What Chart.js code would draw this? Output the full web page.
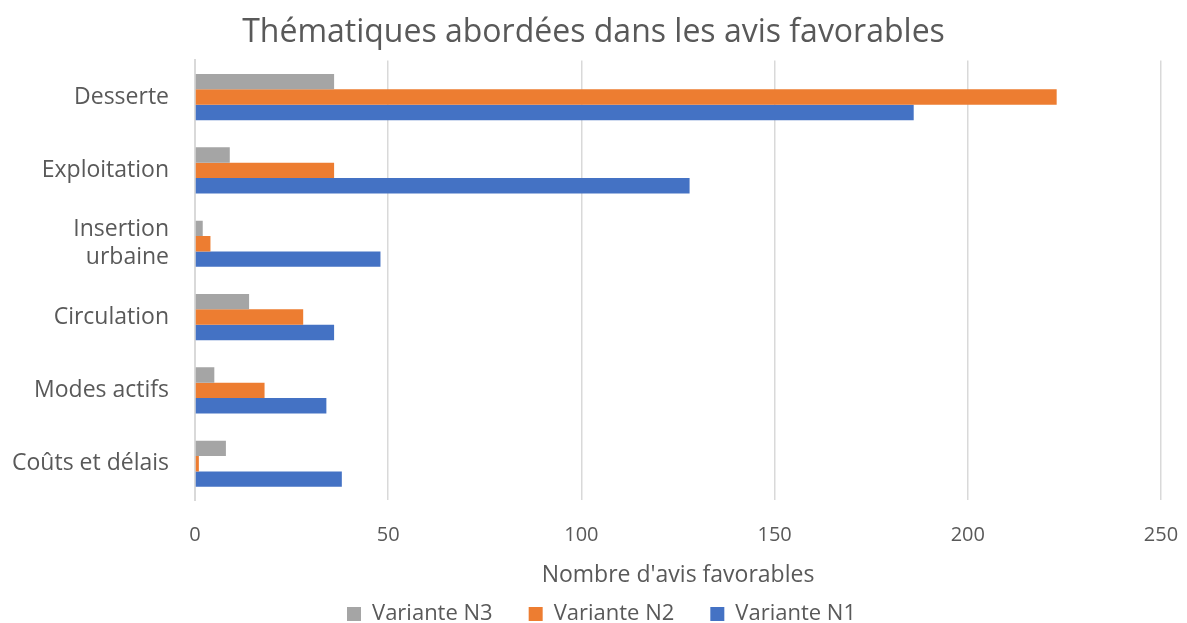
<!DOCTYPE html>
<html><head><meta charset="utf-8">
<script src="https://cdn.jsdelivr.net/npm/chart.js@4"></script>
<style>html,body{margin:0;padding:0;background:#fff}#wrap{width:1187px;height:623px}</style>
</head><body><div id="wrap"><canvas id="c" width="1187" height="623"></canvas></div>
<script>
const categories = ['Desserte', 'Exploitation', ['Insertion', 'urbaine'], 'Circulation', 'Modes actifs', 'Coûts et délais'];
const varianteN3 = [36, 9, 2, 14, 5, 8];
const varianteN2 = [223, 36, 4, 28, 18, 1];
const varianteN1 = [186, 128, 48, 36, 34, 38];
const xTicks = [0, 50, 100, 150, 200, 250];

const FONT = "'Open Sans', 'Liberation Sans', sans-serif";
const TXT = '#595959';
const boxShift = {
  id: 'boxShift',
  afterLayout(chart) {
    const l = chart.legend; if (l) { l.left += 18; l.right += 18; }
    const t = chart.titleBlock; if (t) { t.left += 10; t.right += 10; }
  }
};
new Chart(document.getElementById('c'), {
  type: 'bar',
  data: {
    labels: categories,
    datasets: [
      {label: 'Variante N3', data: varianteN3, backgroundColor: '#a5a5a5'},
      {label: 'Variante N2', data: varianteN2, backgroundColor: '#ed7d31'},
      {label: 'Variante N1', data: varianteN1, backgroundColor: '#4472c4'}
    ]
  },
  plugins: [boxShift],
  options: {
    indexAxis: 'y',
    responsive: false,
    animation: false,
    layout: {padding: {left: 6, right: 26, top: 0, bottom: -12}},
    datasets: {bar: {categoryPercentage: 0.63, barPercentage: 1.0}},
    plugins: {
      title: {display: true, text: 'Thématiques abordées dans les avis favorables', color: TXT,
        font: {family: FONT, size: 32, weight: 'normal'}, padding: {top: 14, bottom: 8}},
      legend: {position: 'bottom', labels: {color: TXT, font: {family: FONT, size: 22}, boxWidth: 14, boxHeight: 14, padding: 36}},
      tooltip: {enabled: false}
    },
    scales: {
      x: {
        min: 0, max: 250,
        afterBuildTicks: (ax) => { ax.ticks = xTicks.map(v => ({value: v})); },
        afterFit: (ax) => { ax.paddingLeft = 0; ax.paddingRight = 0; },
        grid: {color: '#d9d9d9', lineWidth: 1.5, drawTicks: false},
        border: {display: false},
        ticks: {color: TXT, font: {family: FONT, size: 20}, padding: 23},
        title: {display: true, text: "Nombre d'avis favorables", color: TXT, font: {family: FONT, size: 23}, padding: {top: -9, bottom: -22}}
      },
      y: {
        afterFit: (ax) => { ax.width = 189; },
        grid: {display: false, drawTicks: false},
        border: {display: true, color: '#d9d9d9', width: 2},
        ticks: {color: TXT, font: {family: FONT, size: 23}, padding: 26, autoSkip: false}
      }
    }
  }
});
</script>
</body></html>
